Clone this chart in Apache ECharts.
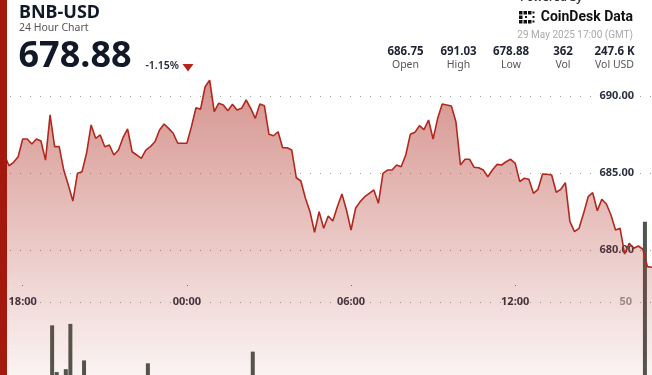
<!DOCTYPE html>
<html><head><meta charset="utf-8">
<script src="https://cdn.jsdelivr.net/npm/echarts@6/dist/echarts.min.js"></script>
<style>html,body{margin:0;padding:0;background:#fff;overflow:hidden}#c{width:652px;height:375px}</style>
</head><body><div id="c"></div>
<script>
// 10-minute closes from 17:00 (28 May) to 17:00 (29 May)
const prices = [
  686.75, 686.40, 686.15, 685.47, 685.69, 686.06, 687.21, 687.21, 686.88, 687.21,
  687.08, 685.84, 688.77, 686.71, 686.71, 685.19, 684.22, 683.18, 684.98, 685.08,
  686.28, 688.12, 687.25, 687.47, 686.71, 686.82, 686.17, 686.49, 687.29, 687.86,
  686.38, 686.17, 685.95, 686.49, 686.71, 687.03, 687.79, 688.18, 687.90, 687.58,
  686.93, 686.93, 686.93, 688.01, 689.24, 689.14, 690.60, 691.03, 688.98, 689.53,
  689.42, 689.05, 689.46, 689.09, 689.20, 689.74, 689.20, 688.55, 689.48, 689.37,
  687.51, 687.42, 687.68, 686.64, 686.64, 686.49, 684.69, 684.48, 683.36, 682.49,
  681.15, 682.49, 681.41, 682.21, 681.88, 682.81, 683.64, 682.60, 681.30, 682.71,
  683.14, 683.46, 683.68, 683.90, 683.03, 684.98, 685.19, 685.19, 685.52, 685.41,
  686.17, 687.51, 687.64, 688.07, 687.82, 688.44, 687.21, 688.55, 689.48, 689.42,
  689.35, 688.33, 685.52, 685.89, 685.89, 685.37, 685.34, 685.19, 684.76, 685.19,
  685.56, 685.52, 685.73, 685.89, 685.63, 684.44, 684.66, 684.59, 683.68, 683.94,
  684.94, 684.92, 684.87, 683.75, 683.94, 684.37, 681.84, 681.19, 681.41, 682.38,
  683.46, 683.72, 682.55, 683.29, 682.99, 682.27, 681.30, 681.41, 679.74, 680.44,
  680.11, 680.26, 680.05, 678.92, 678.88
];
// hours relative to 18:00 of each 10-minute step
const priceHours = prices.map((_, i) => -1 + i / 6);
// volume bars: slot index (10-minute slots) and value
const volSlots = [12, 13, 15, 16, 19, 33, 56, 142];
const volValues = [34, 2, 4, 35, 10, 8, 16, 105];
const xTickHours = [0, 6, 12, 18];
const xTickLabels = ['18:00', '00:00', '06:00', '12:00'];
const priceTicks = [680, 685, 690];
const volTicks = [50];
const statValues = ['686.75', '691.03', '678.88', '362', '247.6 K'];
const statNames = ['Open', 'High', 'Low', 'Vol', 'Vol USD'];

const FONT = "'Noto Sans', sans-serif";
const X_MIN = -0.83, X_MAX = 23;
const chart = echarts.init(document.getElementById('c'), null, {renderer: 'canvas'});

const statCenters = [405.5, 458.5, 511, 563, 614.5];
const statGraphics = [];
statValues.forEach((v, i) => {
  statGraphics.push({type: 'text', x: statCenters[i], y: 52, style: {text: v, fill: '#1e2433', font: 'bold 11.5px ' + FONT, textAlign: 'center', textVerticalAlign: 'middle'}});
  statGraphics.push({type: 'text', x: statCenters[i], y: 65.5, style: {text: statNames[i], fill: '#555', font: '10.5px ' + FONT, textAlign: 'center', textVerticalAlign: 'middle'}});
});

const logoSq = [[519,11],[519,15.5],[519,20],[523.5,11],[523.5,20],[528,11],[528,20]];
const logoDots = [[532.5,11.5],[532.5,16],[532.5,20.5],[525,16]];
const logoGraphics = logoSq.map(p => ({type: 'rect', shape: {x: p[0], y: p[1], width: 3.5, height: 3.5}, style: {fill: '#111'}}))
  .concat(logoDots.map(p => ({type: 'rect', shape: {x: p[0], y: p[1], width: 2, height: 2}, style: {fill: '#111'}})));

const option = {
  animation: false,
  backgroundColor: '#fff',
  grid: [
    {left: 0, right: 0, top: 19, height: 385, outerBoundsMode: 'none', containLabel: false},
    {left: 0, right: 0, top: 156, bottom: 0, outerBoundsMode: 'none', containLabel: false}
  ],
  xAxis: [
    {type: 'value', gridIndex: 0, min: X_MIN, max: X_MAX, position: 'bottom', offset: -119,
     axisLine: {show: false},
     axisTick: {show: true, length: 1, customValues: xTickHours, lineStyle: {color: '#777'}},
     axisLabel: {customValues: xTickHours, margin: 11, fontSize: 11, fontWeight: 'bold', color: '#2b3140', fontFamily: FONT,
       formatter: v => xTickLabels[xTickHours.indexOf(Math.round(v))] || ''},
     splitLine: {show: false}},
    {type: 'value', gridIndex: 1, min: X_MIN, max: X_MAX, show: false}
  ],
  yAxis: [
    {type: 'value', gridIndex: 0, position: 'right', min: 670, max: 695, interval: 5,
     axisLine: {show: false},
     axisTick: {show: false, customValues: priceTicks},
     axisLabel: {inside: true, margin: 18, customValues: priceTicks, fontSize: 11, fontWeight: 'bold', color: '#2b3140', fontFamily: FONT,
       formatter: v => v.toFixed(2)},
     splitLine: {show: true, lineStyle: {type: [1, 9], color: '#a0a0a0', width: 1}}},
    {type: 'value', gridIndex: 1, position: 'right', min: 0, max: 150, interval: 50,
     axisLine: {show: false},
     axisTick: {show: false, customValues: volTicks},
     axisLabel: {inside: true, margin: 20, customValues: volTicks, fontSize: 11, fontWeight: 'bold', color: '#9a9a9a', fontFamily: FONT},
     splitLine: {show: true, lineStyle: {type: [1, 9], color: '#a0a0a0', width: 1}}}
  ],
  series: [
    {type: 'bar', xAxisIndex: 1, yAxisIndex: 1, barWidth: 4, z: 1,
     data: volSlots.map((s, i) => [-1 + (s + 0.45) / 6, volValues[i]]),
     itemStyle: {color: '#4d554d'}},
    {type: 'line', xAxisIndex: 0, yAxisIndex: 0, symbol: 'none', z: 2,
     data: prices.map((v, i) => [priceHours[i], v]),
     lineStyle: {color: '#b1291e', width: 1.6},
     areaStyle: {color: new echarts.graphic.LinearGradient(0, 0, 0, 1, [
       {offset: 0, color: 'rgba(180,60,50,0.78)'},
       {offset: 1, color: 'rgba(180,60,50,0.02)'}
     ])}}
  ],
  graphic: [
    {type: 'rect', shape: {x: 0, y: 0, width: 7, height: 375}, style: {fill: '#a3190e'}, z: 100},
    {type: 'text', x: 19, y: 12.5, style: {text: 'BNB-USD', fill: '#111827', font: 'bold 18px ' + FONT, textVerticalAlign: 'middle'}},
    {type: 'text', x: 19, y: 28, style: {text: '24 Hour Chart', fill: '#555', font: '10.5px ' + FONT, textVerticalAlign: 'middle'}},
    {type: 'text', x: 18.5, y: 56.5, style: {text: '678.88', fill: '#111827', font: 'bold 36px ' + FONT, textVerticalAlign: 'middle'}},
    {type: 'text', x: 145.5, y: 66.5, style: {text: '-1.15%', fill: '#1e2433', font: '600 10.5px ' + FONT, textVerticalAlign: 'middle'}},
    {type: 'polygon', shape: {points: [[182.5, 64], [193.5, 64], [188, 71.5]]}, style: {fill: '#b3261e'}},
    {type: 'text', x: 520, y: -2, style: {text: 'Powered by', fill: '#333', font: '600 11px ' + FONT, textVerticalAlign: 'middle'}},
    {type: 'text', x: 633, y: 17.5, style: {text: 'CoinDesk Data', fill: '#111', font: 'bold 14px Roboto, sans-serif', textAlign: 'right', textVerticalAlign: 'middle'}},
    {type: 'text', x: 633, y: 35, style: {text: '29 May 2025 17:00 (GMT)', fill: '#aaa', font: '10px Roboto, sans-serif', textAlign: 'right', textVerticalAlign: 'middle'}}
  ].concat(statGraphics, logoGraphics)
};
chart.setOption(option);
</script>
</body></html>
